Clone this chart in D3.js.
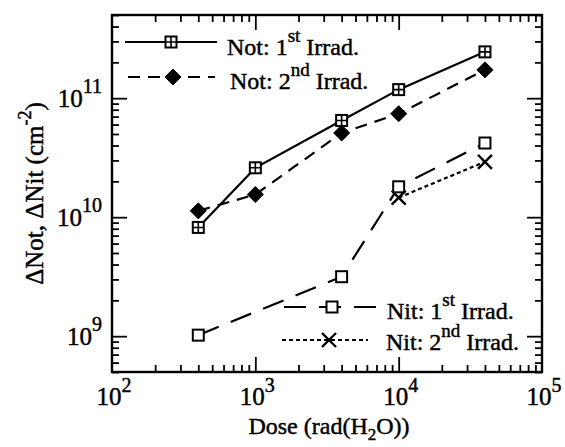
<!DOCTYPE html>
<html>
<head>
<meta charset="utf-8">
<script src="https://cdn.jsdelivr.net/npm/d3@7"></script>
<style>
  body { margin: 0; background: #fff; }
  text { font-family: "Liberation Serif", "Times New Roman", serif; fill: #000; stroke: #000; stroke-width: 0.45px; }
</style>
</head>
<body>
<div id="chart"></div>
<script>
// values (dose in rad(H2O), densities in cm^-2)
var doses = [400, 1000, 4000, 10000, 40000];
var notFirst = [8.2e9, 2.6e10, 6.5e10, 1.18e11, 2.45e11];
var notSecond = [1.13e10, 1.55e10, 5.1e10, 7.4e10, 1.73e11];
var nitFirstDoses = [400, 4000, 10000, 40000];
var nitFirst = [1.02e9, 3.16e9, 1.8e10, 4.2e10];
var nitSecondDoses = [10000, 40000];
var nitSecond = [1.46e10, 2.92e10];
var xTickExp = [2, 3, 4, 5];
var yTickExp = [9, 10, 11];
var legendNames = ["Not: 1", "Not: 2", "Nit: 1", "Nit: 2"];
var legendSups = ["st", "nd", "st", "nd"];

var W = 565, H = 447;
var pLeft = 112, pRight = 542, pTop = 15, pBottom = 372;

var svg = d3.select("#chart").append("svg")
	.attr("width", W)
	.attr("height", H);

var x = d3.scaleLog().domain([1e2, 1e5]).range([pLeft, pRight]);
var y = d3.scaleLog().domain([5e8, 5e11]).range([pBottom, pTop]);

//minor / major tick values
var xMajor = xTickExp.map(function(e){ return Math.pow(10, e); });
var yMajor = yTickExp.map(function(e){ return Math.pow(10, e); });
function isMajor(v){
	var l = Math.log10(v);
	return Math.abs(l - Math.round(l)) < 1e-9;
}
var xMinor = x.ticks().filter(function(v){ return !isMajor(v); });
var yMinor = y.ticks().filter(function(v){ return !isMajor(v); });

function drawTicks(axisFn, scale, values, size, tx, ty){
	svg.append("g")
		.attr("transform", "translate(" + tx + "," + ty + ")")
		.call(axisFn(scale).tickValues(values).tickSize(size).tickFormat(""))
		.call(function(g){
			g.select(".domain").remove();
			g.selectAll("line").attr("stroke", "#000").attr("stroke-width", 1.8);
		});
}

var majLen = -15, minLen = -7;
drawTicks(d3.axisBottom, x, xMajor.slice(1, 3), majLen, 0, pBottom);
drawTicks(d3.axisBottom, x, xMinor, minLen, 0, pBottom);
drawTicks(d3.axisTop, x, xMajor.slice(1, 3), majLen, 0, pTop);
drawTicks(d3.axisTop, x, xMinor, minLen, 0, pTop);
drawTicks(d3.axisLeft, y, yMajor, majLen, pLeft, 0);
drawTicks(d3.axisLeft, y, yMinor, minLen, pLeft, 0);
drawTicks(d3.axisRight, y, yMajor, majLen, pRight, 0);
drawTicks(d3.axisRight, y, yMinor, minLen, pRight, 0);

//frame
svg.append("rect")
	.attr("x", pLeft)
	.attr("y", pTop)
	.attr("width", pRight - pLeft)
	.attr("height", pBottom - pTop)
	.attr("fill", "none")
	.attr("stroke", "#000")
	.attr("stroke-width", 2.4);

//tick labels with superscript exponents
var xl = svg.append("g").selectAll("text")
	.data(xTickExp)
	.join("text")
	.attr("x", function(d){ return x(Math.pow(10, d)) + 2; })
	.attr("y", 405)
	.attr("text-anchor", "middle")
	.style("font-size", "25px");
xl.append("tspan").text("10");
xl.append("tspan").attr("dy", -13).style("font-size", "20px").text(function(d){ return d; });

var yl = svg.append("g").selectAll("text")
	.data(yTickExp)
	.join("text")
	.attr("x", 102)
	.attr("y", function(d){ return y(Math.pow(10, d)) + 9; })
	.attr("text-anchor", "end")
	.style("font-size", "25px");
yl.append("tspan").text("10");
yl.append("tspan").attr("dy", -14).style("font-size", "20px").text(function(d){ return d; });

//axis titles
var xt = svg.append("text")
	.attr("x", 329)
	.attr("y", 434)
	.attr("text-anchor", "middle")
	.style("font-size", "24px");
xt.append("tspan").text("Dose (rad(H");
xt.append("tspan").attr("dy", 6).style("font-size", "17px").text("2");
xt.append("tspan").attr("dy", -6).text("O))");

var yt = svg.append("text")
	.attr("transform", "translate(43," + ((pTop + pBottom) / 2) + ") rotate(-90)")
	.attr("text-anchor", "middle")
	.style("font-size", "25px");
yt.append("tspan").text("\u0394Not, \u0394Nit (cm");
yt.append("tspan").attr("dy", -12).style("font-size", "18px").text("-2");
yt.append("tspan").attr("dy", 12).text(")");

//markers
function markSquareCross(g, cx, cy){
	g.append("rect").attr("x", cx - 5.5).attr("y", cy - 5.5).attr("width", 11).attr("height", 11)
		.attr("fill", "#fff").attr("stroke", "#000").attr("stroke-width", 2);
	g.append("path").attr("d", "M" + (cx - 5.5) + "," + cy + "H" + (cx + 5.5) + "M" + cx + "," + (cy - 5.5) + "V" + (cy + 5.5))
		.attr("stroke", "#000").attr("stroke-width", 1.6);
}
function markDiamond(g, cx, cy){
	g.append("path").attr("d", "M" + cx + "," + (cy - 8) + "L" + (cx + 8) + "," + cy + "L" + cx + "," + (cy + 8) + "L" + (cx - 8) + "," + cy + "Z")
		.attr("fill", "#000").attr("stroke", "#000").attr("stroke-width", 1);
}
function markSquare(g, cx, cy){
	g.append("rect").attr("x", cx - 5.5).attr("y", cy - 5.5).attr("width", 11).attr("height", 11)
		.attr("fill", "#fff").attr("stroke", "#000").attr("stroke-width", 2);
}
function markCross(g, cx, cy){
	g.append("path").attr("d", "M" + (cx - 7) + "," + (cy - 7) + "L" + (cx + 7) + "," + (cy + 7) + "M" + (cx - 7) + "," + (cy + 7) + "L" + (cx + 7) + "," + (cy - 7))
		.attr("stroke", "#000").attr("stroke-width", 2.4);
}

var series = [
	{xs: doses, ys: notFirst, dash: null, mark: markSquareCross},
	{xs: doses, ys: notSecond, dash: "12,8", mark: markDiamond},
	{xs: nitFirstDoses, ys: nitFirst, dash: "22,13", mark: markSquare},
	{xs: nitSecondDoses, ys: nitSecond, dash: "4,3", mark: markCross}
];

var line = d3.line()
	.x(function(d){ return x(d[0]); })
	.y(function(d){ return y(d[1]); });

series.forEach(function(s){
	var pts = d3.zip(s.xs, s.ys);
	svg.append("path")
		.attr("d", line(pts))
		.attr("fill", "none")
		.attr("stroke", "#000")
		.attr("stroke-width", 2.2)
		.attr("stroke-dasharray", s.dash);
});
series.forEach(function(s){
	var g = svg.append("g");
	d3.zip(s.xs, s.ys).forEach(function(p){ s.mark(g, x(p[0]), y(p[1])); });
});

//legends
var legendPos = [
	{x1: 125, x2: 217, mx: 171, ly: 42, tx: 227, ty: 55},
	{x1: 128, x2: 215, mx: 173, ly: 77, tx: 230, ty: 89},
	{x1: 284, x2: 377, mx: 332, ly: 307, tx: 387, ty: 319},
	{x1: 282, x2: 368, mx: 329, ly: 340, tx: 386, ty: 350}
];
series.forEach(function(s, i){
	var p = legendPos[i];
	var g = svg.append("g");
	g.append("line")
		.attr("x1", p.x1).attr("x2", p.x2)
		.attr("y1", p.ly).attr("y2", p.ly)
		.attr("stroke", "#000")
		.attr("stroke-width", 2.2)
		.attr("stroke-dasharray", s.dash);
	s.mark(g, p.mx, p.ly);
	var t = g.append("text")
		.attr("x", p.tx)
		.attr("y", p.ty)
		.style("font-size", "24px");
	t.append("tspan").text(legendNames[i]);
	t.append("tspan").attr("dy", -13).style("font-size", "19px").text(legendSups[i]);
	t.append("tspan").attr("dy", 13).text(" Irrad.");
});
</script>
</body>
</html>
